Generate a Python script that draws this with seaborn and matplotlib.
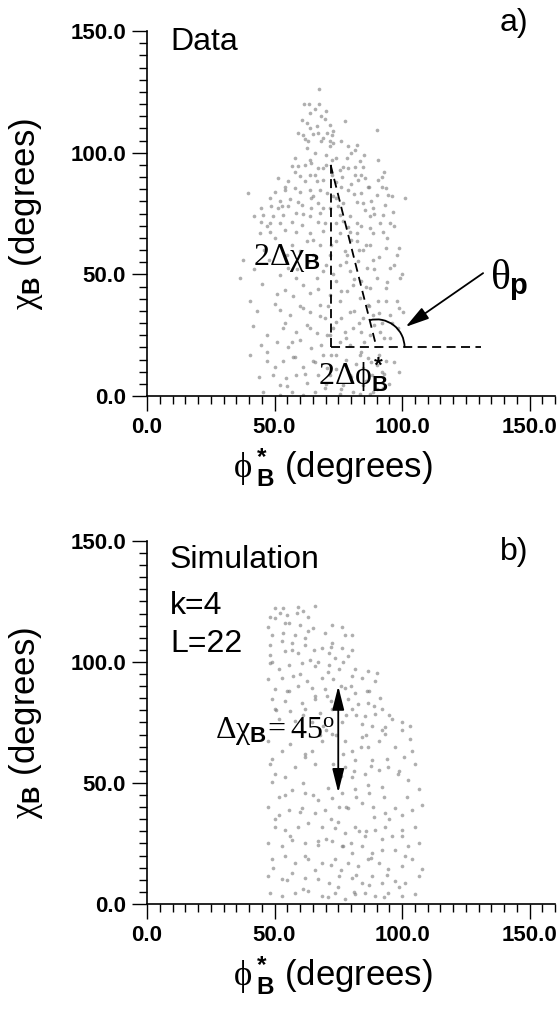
import matplotlib
matplotlib.use("Agg")
import matplotlib.pyplot as plt
from matplotlib.patches import Arc
from matplotlib.ticker import MultipleLocator, FormatStrFormatter
import seaborn as sns
import pandas as pd

# ---------------- data ----------------
data_phi = [67.5, 61.5, 63.6, 67.5, 64.1, 68.4, 69.8, 77.6, 60.6, 62.8, 66.5, 71.7, 90.0, 59.3, 61.3, 65.2, 67.1, 70.4, 72.4,
            61.9, 63.2, 68.4, 71.7, 73.0, 78.9, 82.2, 81.5, 62.6, 71.7, 58.0, 63.9, 64.5, 72.4, 74.3, 78.3, 83.5, 90.7,
            56.7, 59.3, 67.1, 69.1, 75.6, 78.9, 81.5, 84.8, 60.0, 63.9, 72.4, 76.3, 81.5, 82.8, 85.4, 90.7, 92.0, 51.5,
            55.4, 61.9, 66.5, 69.1, 86.7, 92.0, 93.9, 39.7, 54.1, 58.0, 63.9, 67.8, 70.4, 78.9, 84.1, 90.0, 94.6, 101.1,
            48.2, 52.1, 56.0, 59.3, 64.5, 67.1, 74.3, 76.9, 82.2, 84.8, 93.3, 44.9, 48.8, 51.5, 55.4, 60.6, 64.5, 69.1,
            71.7, 75.0, 85.4, 88.7, 96.6, 45.6, 49.5, 53.4, 58.6, 63.9, 67.8, 75.6, 79.6, 87.4, 92.6, 44.9, 48.2, 52.1,
            56.7, 60.6, 67.1, 69.8, 74.3, 78.9, 82.2, 87.4, 91.3, 95.2, 44.3, 48.2, 54.1, 58.6, 63.9, 75.6, 79.6, 82.2,
            88.7, 92.6,
            37.7, 36.4, 40.3, 41.7, 44.9, 46.9, 40.3, 49.5, 52.1, 45.6, 52.1, 55.4, 58.6, 61.3, 54.1, 57.3, 63.9, 66.5,
            69.1, 65.2, 67.8, 62.6, 60.0, 52.1, 56.0, 60.0, 63.9, 67.8, 69.8, 53.4, 58.6, 62.6, 66.5, 70.4, 50.8, 55.4,
            60.0, 64.5, 68.4, 53.4, 57.3, 61.3, 65.2, 69.1, 54.7, 58.6, 62.6, 67.1, 52.1, 56.7, 61.3, 65.8, 69.8, 74.3,
            77.6, 75.6, 79.6, 74.3, 78.3, 75.6, 79.6, 74.3, 77.6, 75.6, 79.6, 74.3, 77.6, 79.6, 77.0, 80.9, 75.6, 82.2,
            84.8, 87.4, 82.8, 86.1, 88.7, 84.1, 87.4, 90.0, 83.5, 86.7, 90.7, 84.8, 88.7, 92.0, 84.1, 87.4, 91.3, 95.2,
            83.5, 86.7, 90.0, 93.9, 84.8, 88.1, 92.0, 84.8, 88.7, 92.6, 83.5, 87.4, 93.9, 97.9, 95.2, 99.2, 93.9, 97.9,
            100.5, 95.2, 98.5, 93.9, 78.3, 71.7, 71.7, 71.7, 71.7, 80.9, 80.9, 70.4,
            66, 70, 64, 69, 73, 76, 66, 70, 80, 85,
            58, 62, 66, 70, 74, 77, 80, 84, 87, 60, 65, 73, 76, 81, 88, 54, 50, 93, 96,
            47, 50, 53, 57, 61, 65, 69, 72, 77, 80, 84, 86, 89, 94, 97, 42, 46, 99,
            42, 45, 48, 51, 55, 59, 63, 67, 70, 73, 76, 78, 81, 83, 86, 89, 91, 94, 97, 100,
            43, 47, 50, 54, 57, 61, 64, 68, 71, 73, 76, 78, 81, 83, 85, 87, 89, 91, 93, 96, 99,
            44, 47, 50, 55, 58, 62, 66, 70, 72, 74, 76, 78, 80, 82, 84, 86, 88, 90, 91, 93, 95, 97, 99]
data_chi = [126.2, 120.1, 120.1, 120.1, 116.3, 115.2, 113.8, 112.9, 113.3, 112.2, 110.8, 111.5, 109.4, 108.1, 107.4, 107.8,
            108.1, 108.1, 107.4, 105.6, 104.6, 104.6, 104.6, 103.9, 102.6, 103.3, 101.2, 101.9, 102.6, 97.8, 97.1, 95.7,
            97.1, 97.8, 97.8, 96.4, 97.1, 94.6, 94.6, 93.6, 93.6, 93.0, 93.6, 94.3, 94.1, 90.5, 90.9, 90.9, 90.2, 90.9,
            88.8, 89.5, 88.8, 90.2, 89.5, 88.2, 88.2, 88.2, 88.8, 86.1, 86.1, 85.4, 83.4, 84.7, 85.4, 84.7, 84.7, 83.4,
            84.7, 83.4, 82.7, 82.7, 81.3, 81.3, 80.3, 80.9, 79.9, 81.3, 79.2, 81.3, 79.2, 79.9, 79.2, 78.6, 77.2, 77.9,
            77.2, 77.9, 78.6, 77.2, 77.2, 77.2, 77.9, 76.5, 77.2, 75.8, 74.4, 73.8, 74.4, 75.1, 73.8, 75.1, 74.4, 73.8,
            73.8, 74.4, 71.7, 71.0, 71.0, 71.7, 70.3, 71.7, 71.0, 71.0, 69.6, 71.0, 69.0, 71.0, 71.0, 66.9, 67.6, 68.3,
            67.6, 66.9, 66.9, 67.6, 66.9, 66.9, 67.6,
            56.0, 48.5, 38.9, 28.6, 21.0, 14.2, 16.9, 8.7, 4.6, 1.8, 49.8, 52.6, 48.5, 45.7, 43.7, 40.9, 42.3, 48.5,
            51.2, 58.1, 62.2, 63.6, 59.4, 35.4, 33.4, 36.8, 34.7, 37.5, 32.0, 27.9, 26.5, 29.3, 25.8, 25.1, 22.4, 20.3,
            23.1, 19.7, 21.0, 14.2, 16.2, 12.1, 14.2, 16.9, 7.3, 8.7, 5.3, 8.7, 0.5, 1.8, 0.5, 1.8, 3.2, 63.6,
            59.4, 54.0, 51.2, 47.1, 43.0, 38.9, 34.7, 30.6, 26.5, 22.4, 21.0, 16.9, 12.8, 8.7, 4.6, 1.8, 0.8, 63.6,
            60.1, 62.2, 55.3, 52.6, 56.0, 47.1, 44.4, 48.5, 40.2, 37.5, 38.9, 32.0, 33.4, 30.0, 26.5, 25.1, 26.5, 23.8,
            16.9, 15.5, 12.8, 14.2, 11.4, 8.7, 10.0, 4.6, 1.8, 3.2, 1.0, 1.0, 60.8, 58.1, 52.6, 48.5, 44.4, 38.9,
            34.7, 33.4, 27.9, 38.9, 58.1, 58.1, 41.6, 25.1, 8.7, 27.9, 45.7, 11.4,
            118, 117, 110, 106, 109, 105, 100, 99, 100, 99,
            92, 95, 91, 95, 88, 94, 87, 91, 86, 84, 82, 82, 86, 83, 80, 86, 84, 92, 82,
            70, 65, 78, 62, 75, 64, 68, 62, 72, 64, 70, 62, 75, 65, 70, 74, 60, 61,
            52, 46, 56, 42, 58, 52, 55, 44, 54, 50, 43, 55, 48, 60, 45, 52, 57, 47, 54, 50,
            35, 25, 38, 30, 22, 36, 28, 33, 37, 28, 32, 24, 35, 30, 22, 37, 29, 34, 24, 30, 36,
            8, 18, 12, 4, 16, 9, 14, 5, 17, 11, 3, 15, 8, 13, 18, 6, 14, 3, 17, 9, 5, 14, 10]

sim_phi = [50.2, 53.5, 59.4, 65.9, 48.3, 52.2, 54.8, 58.7, 63.3, 47.6, 55.5, 60.0, 72.5, 76.4, 48.9, 53.5, 58.1, 63.3, 69.9,
           77.7, 80.3, 48.3, 52.9, 56.8, 62.0, 65.3, 72.5, 68.5, 76.4, 80.3, 48.3, 54.2, 59.4, 64.0, 71.2, 73.8, 79.0,
           48.3, 51.6, 55.5, 60.7, 65.9, 71.2, 75.1, 81.6, 86.8, 90.1, 47.6, 52.9, 57.4, 62.7, 68.5, 73.1, 80.3, 84.2,
           89.5, 50.2, 55.5, 59.4, 64.6, 69.9, 77.7, 81.6, 86.2, 91.4, 48.9, 54.2, 60.7, 65.9, 70.5, 79.0, 82.9, 86.8,
           92.1, 50.2, 56.1, 62.0, 67.9, 72.5, 80.3, 85.5, 89.5, 96.0, 99.9, 103.2, 51.6, 58.1, 64.6, 69.2, 76.4, 84.2,
           88.2, 93.4,
           47.6, 52.9, 48.3, 50.2, 48.9, 54.2, 58.1, 62.0, 64.6, 68.5, 72.5, 77.7, 80.3, 84.2, 86.8, 90.8, 93.4, 97.3,
           100.6, 103.8, 105.1, 88.2, 81.6, 77.7, 80.3, 85.5, 90.8, 94.7, 98.6, 102.5, 106.5, 92.1, 86.8, 81.6, 76.4,
           72.5, 67.2, 62.0, 56.8, 51.6, 47.6, 51.6, 55.5, 60.7, 65.9, 69.9, 75.1, 79.0, 84.2, 88.8, 93.4, 97.3, 99.9,
           103.8, 107.8, 50.2, 54.2, 59.4, 63.3, 68.5, 73.8, 77.7, 81.6, 85.5, 89.5, 93.4, 96.0, 99.9, 105.1, 47.6,
           52.9, 56.8, 62.0, 67.2, 72.5, 76.4, 80.3, 84.2, 88.2, 92.1, 97.3, 102.5, 106.5, 48.9, 54.2, 58.1, 63.3,
           68.5, 73.8, 79.0, 82.9, 86.8, 90.8, 94.7, 99.9, 103.8, 107.8, 47.6, 52.9, 56.8, 62.0, 67.2, 71.2, 75.1,
           80.3, 84.2, 88.2, 92.1, 97.3, 101.2, 106.5, 48.3, 52.9, 58.1, 63.3, 68.5, 73.8, 77.7, 81.6, 85.5, 89.5,
           94.7, 99.9, 105.1,
           49.5, 50, 49, 50.5, 49, 50,
           55, 56, 54, 56, 55, 57, 54,
           61, 62, 60, 61, 62, 61, 60, 62, 61,
           66, 67, 65, 66, 68, 66, 67, 65,
           71, 72, 70, 72, 71, 73, 70, 72, 71, 72,
           75, 76, 77, 75, 78, 76, 77, 74, 78, 76, 77,
           81, 82, 80, 83, 82, 81, 84, 82, 80,
           87, 88, 86, 89, 87, 88, 86, 89, 87,
           93, 94, 92, 95, 93, 94, 92, 95,
           99, 101, 100, 102, 99, 103, 100]
sim_chi = [122.2, 122.2, 122.8, 123.1, 118.7, 120.1, 119.4, 120.1, 118.7, 114.6, 116.0, 115.3, 115.3, 114.6, 111.2, 111.9,
           111.2, 112.6, 111.9, 111.2, 111.2, 107.1, 108.5, 107.8, 107.1, 105.1, 107.8, 105.8, 105.8, 105.1, 103.0,
           104.4, 103.7, 101.0, 103.7, 101.7, 102.3, 99.6, 96.9, 98.9, 99.6, 98.3, 98.9, 96.9, 96.9, 96.2, 95.5, 92.8,
           93.5, 94.2, 92.1, 93.5, 92.8, 94.2, 93.5, 92.1, 88.7, 88.0, 90.1, 89.4, 88.7, 89.4, 87.3, 88.0, 85.3, 84.6,
           83.9, 83.2, 84.6, 86.0, 84.6, 82.5, 83.2, 80.5, 80.5, 79.8, 80.5, 79.1, 80.5, 80.5, 77.8, 78.4, 76.4, 75.0,
           73.7, 76.4, 75.7, 75.0, 73.7, 75.0, 74.3, 73.7, 73.0,
           67.5, 63.4, 58.0, 53.9, 50.5, 52.5, 56.6, 60.7, 63.4, 67.5, 70.3, 67.5, 63.4, 68.9, 64.8, 67.5, 70.3, 64.8,
           60.7, 63.4, 58.0, 59.3, 59.3, 56.6, 52.5, 53.9, 55.2, 56.6, 53.9, 51.1, 47.7, 48.4, 49.1, 47.7, 45.7, 43.6,
           42.9, 45.7, 47.0, 44.3, 40.2, 36.8, 38.8, 39.5, 37.5, 38.8, 40.2, 39.5, 41.6, 40.2, 37.5, 39.5, 36.8, 38.8,
           40.9, 32.0, 30.7, 32.0, 33.4, 32.0, 31.3, 29.3, 32.0, 27.9, 30.7, 32.0, 27.9, 30.7, 32.0, 25.2, 23.8, 26.6,
           25.2, 24.5, 25.9, 23.8, 21.1, 23.8, 21.1, 22.5, 22.5, 23.8, 25.2, 18.4, 19.7, 17.0, 18.4, 17.0, 18.4, 17.0,
           15.6, 18.4, 17.0, 14.3, 15.6, 18.4, 14.3, 11.5, 10.2, 12.9, 10.8, 10.2, 8.8, 11.5, 10.8, 8.8, 11.5, 8.8,
           9.5, 8.8, 11.5, 4.7, 3.3, 4.7, 5.4, 3.3, 4.7, 2.0, 4.0, 4.7, 3.3, 4.7, 3.3, 4.0,
           15, 35, 60, 80, 100, 118,
           10, 28, 45, 66, 88, 105, 116,
           6, 20, 38, 50, 62, 78, 95, 110, 121,
           14, 26, 45, 58, 70, 86, 100, 114,
           3, 16, 27, 35, 48, 58, 72, 84, 96, 106,
           7, 14, 24, 34, 40, 53, 62, 70, 78, 90, 100,
           5, 12, 25, 30, 44, 55, 65, 78, 90,
           8, 19, 30, 36, 46, 57, 70, 82, 88,
           3, 12, 27, 35, 44, 60, 72, 78,
           7, 20, 28, 44, 55, 68, 72]

major_ticks = [0, 50, 100, 150]

# guide lines in panel a (degrees)
tri_vert_x, tri_vert_y = [72, 72], [20, 95]
tri_slope_x, tri_slope_y = [72, 90], [95, 20]
tri_base_x, tri_base_y = [72, 131], [20, 20]
arc_center = (90, 20)
theta_arrow_tail, theta_arrow_head = (131.8, 50.5), (101.4, 28.4)
# double arrow in panel b
dchi_x, dchi_lo, dchi_hi = 75, 46, 90

# ---------------- style ----------------
sns.set_style("ticks")
plt.rcParams["font.family"] = ["Liberation Sans", "DejaVu Sans"]
plt.rcParams["mathtext.fontset"] = "custom"
plt.rcParams["mathtext.rm"] = "Liberation Serif"
plt.rcParams["mathtext.it"] = "Liberation Serif"
plt.rcParams["mathtext.bf"] = "Liberation Sans:bold"
plt.rcParams["mathtext.sf"] = "Liberation Sans"
for key in ("text.color", "axes.labelcolor", "xtick.color", "ytick.color", "axes.edgecolor"):
    plt.rcParams[key] = "black"

fig = plt.figure(figsize=(5.6, 10.1), dpi=100)
ax_a = fig.add_axes([0.2625, 0.6079, 0.7286, 0.3614])
ax_b = fig.add_axes([0.2625, 0.1050, 0.7286, 0.3594])

dot_kw = dict(color="#7a7a7a", s=7, linewidth=0, alpha=0.6)
sns.scatterplot(data=pd.DataFrame({"phi": data_phi, "chi": data_chi}), x="phi", y="chi", ax=ax_a, **dot_kw)
sns.scatterplot(data=pd.DataFrame({"phi": sim_phi, "chi": sim_chi}), x="phi", y="chi", ax=ax_b, **dot_kw)

xlab = r"$\phi\,^{\mathbf{*}}_{\mathbf{B}}$ (degrees)"
ylab = r"$\chi_{\mathbf{B}}$ (degrees)"
for ax in (ax_a, ax_b):
    ax.set_xlim(0, 160)
    ax.set_ylim(0, 150)
    ax.set_xticks(major_ticks)
    ax.set_yticks(major_ticks)
    ax.xaxis.set_major_formatter(FormatStrFormatter("%.1f"))
    ax.yaxis.set_major_formatter(FormatStrFormatter("%.1f"))
    ax.xaxis.set_minor_locator(MultipleLocator(5))
    ax.yaxis.set_minor_locator(MultipleLocator(5))
    ax.tick_params(which="major", direction="out", length=11, width=1.0, pad=4,
                   labelsize=16, color="black", labelcolor="black")
    ax.tick_params(which="minor", direction="out", length=6, width=1.0, color="black")
    for lab in ax.get_xticklabels() + ax.get_yticklabels():
        lab.set_fontweight("bold")
    for s in ("top", "right"):
        ax.spines[s].set_visible(False)
    for s in ("left", "bottom"):
        ax.spines[s].set_linewidth(1.2)
        ax.spines[s].set_color("black")
    ax.set_xlabel(xlab, fontsize=25, color="black")
    ax.set_ylabel(ylab, fontsize=25, color="black")
    ax.xaxis.set_label_coords(0.456, -0.14)
    ax.yaxis.set_label_coords(-0.25, 0.5)

# ---- panel a annotations ----
ax_a.text(9, 142, "Data", fontsize=23, ha="left", va="baseline")
ax_a.text(138.4, 150, "a)", fontsize=23, ha="left", va="baseline", clip_on=False)
dash = (0, (5, 3))
ax_a.plot(tri_vert_x, tri_vert_y, color="black", lw=1.3, ls=dash)
ax_a.plot(tri_slope_x, tri_slope_y, color="black", lw=1.3, ls=dash)
ax_a.plot(tri_base_x, tri_base_y, color="black", lw=1.3, ls=dash)
ax_a.add_patch(Arc(arc_center, width=22, height=23, theta1=0, theta2=104, color="black", lw=1.3))
ax_a.annotate("", xy=theta_arrow_head, xytext=theta_arrow_tail,
              arrowprops=dict(arrowstyle="-|>,head_length=0.8,head_width=0.22", color="black", lw=1.3,
                              shrinkA=0, shrinkB=0, mutation_scale=18))
ax_a.text(134.5, 47.7, r"$\theta_{\mathbf{p}}$", fontsize=30, ha="left", va="center")
ax_a.text(68, 56.7, r"$2\Delta\chi_{\mathbf{B}}$", fontsize=23, ha="right", va="center")
ax_a.text(67, 9, r"$2\Delta\phi^{\mathbf{*}}_{\mathbf{B}}$", fontsize=23, ha="left", va="center")

# ---- panel b annotations ----
ax_b.text(9, 138.8, "Simulation", fontsize=23, ha="left", va="baseline")
ax_b.text(9, 120, "k=4", fontsize=23, ha="left", va="baseline")
ax_b.text(9, 104, "L=22", fontsize=23, ha="left", va="baseline")
ax_b.text(138.4, 142, "b)", fontsize=23, ha="left", va="baseline", clip_on=False)
ax_b.annotate("", xy=(dchi_x, dchi_hi), xytext=(dchi_x, dchi_lo),
              arrowprops=dict(arrowstyle="<|-|>,head_length=0.8,head_width=0.2", color="black", lw=1.3,
                              shrinkA=0, shrinkB=0, mutation_scale=18))
ax_b.text(26.7, 71.5, r"$\Delta\chi_{\mathbf{B}}\!=45^{\mathrm{o}}$", fontsize=23, ha="left", va="center")

fig.savefig("out.png", dpi=100)
